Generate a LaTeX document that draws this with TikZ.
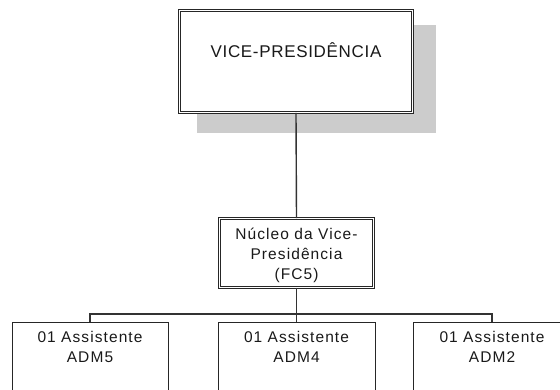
\documentclass[tikz,border=0pt]{standalone}
\usepackage{fontspec}
\setmainfont{Liberation Sans}
\newfontfamily\boxfont[LetterSpace=7]{Liberation Sans}
\newfontfamily\topfont[LetterSpace=4]{Liberation Sans}
\begin{document}
\begin{tikzpicture}[x=1pt,y=-1pt,
  dbox/.style={draw=black!85, double=white, line width=0.9pt, double distance=1.5pt, inner sep=0pt},
  sbox/.style={draw=black!85, line width=1pt, inner sep=0pt},
  lbl/.style={font=\boxfont\fontsize{15.5}{20}\selectfont, text=black!90, inner sep=0pt, align=center},
  conn/.style={draw=black!80, line width=1.4pt}]
\useasboundingbox (0,0) rectangle (560,389);
% shadow
\fill[black!20] (197,25) rectangle (436,133);
% boxes
\node[dbox, fill=white, minimum width=233pt, minimum height=102pt] (vp) at (296,61.5) {};
\node[font=\topfont\fontsize{17}{20}\selectfont, text=black!90, inner sep=0pt] (vpt) at (296,50) {VICE-PRESIDÊNCIA};
\node[dbox, minimum width=154pt, minimum height=69pt] (nuc) at (296.5,253) {};
\node[lbl] (nuct) at (296.5,255) {Núcleo da Vice-\\Presidência\\(FC5)};
\node[sbox, minimum width=156pt, minimum height=100pt] (a5) at (90,372) {};
\node[sbox, minimum width=157pt, minimum height=100pt] (a4) at (296.5,372) {};
\node[sbox, minimum width=158pt, minimum height=100pt] (a2) at (492,372) {};
\node[lbl, anchor=north] (a5t) at (90,331) {01 Assistente\\ADM5};
\node[lbl, anchor=north] (a4t) at (296.5,331) {01 Assistente\\ADM4};
\node[lbl, anchor=north] (a2t) at (492,331) {01 Assistente\\ADM2};
% connectors
\coordinate (bus) at (0,314);
\draw[conn] (vp.south) -- (nuc.north);
\draw[conn] (nuc.south) -- (a4.north);
\draw[conn] (a5.north) -- (a5.north |- bus) -- (a2.north |- bus) -- (a2.north);
\end{tikzpicture}
\end{document}
